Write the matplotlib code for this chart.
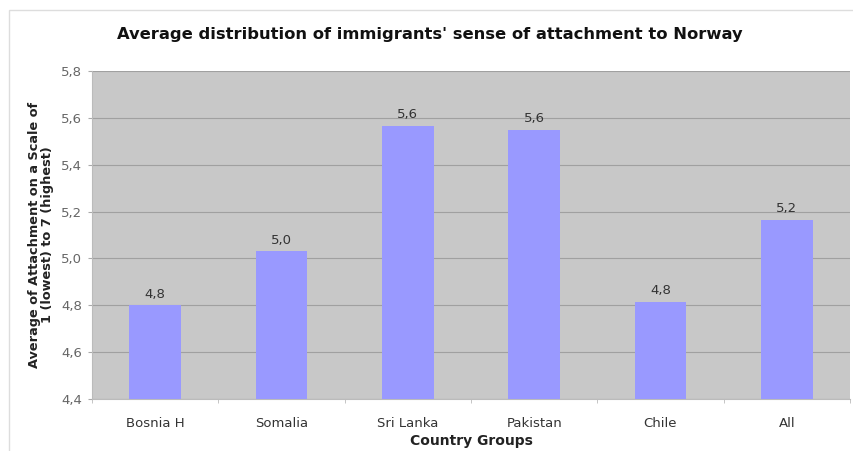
import matplotlib
matplotlib.use("Agg")
import matplotlib.pyplot as plt
from matplotlib.patches import Rectangle
import numpy as np

categories = ["Bosnia H", "Somalia", "Sri Lanka", "Pakistan", "Chile", "All"]
values = [4.80, 5.03, 5.565, 5.55, 4.815, 5.165]
value_labels = ["4,8", "5,0", "5,6", "5,6", "4,8", "5,2"]
yticks = [4.4, 4.6, 4.8, 5.0, 5.2, 5.4, 5.6, 5.8]
ytick_labels = ["4,4", "4,6", "4,8", "5,0", "5,2", "5,4", "5,6", "5,8"]

plt.rcParams['font.family'] = ['DejaVu Sans']
fig = plt.figure(figsize=(8.54, 4.51), dpi=100)
fig.patch.set_facecolor('white')

# outer chart frame
fig.add_artist(Rectangle((9/854, -0.01), 1.0, (451-10)/451 + 0.01, transform=fig.transFigure,
                         fill=False, edgecolor='#dddddd', linewidth=1.0))

ax = fig.add_axes([92/854, 52/451, 758/854, 328/451])
ax.set_facecolor('#c8c8c8')
x = np.arange(len(categories))
ax.bar(x, values, width=0.41, color='#9999ff', zorder=3, bottom=0)
ax.set_ylim(4.4, 5.8)
ax.set_xlim(-0.5, len(categories) - 0.5)
ax.set_yticks(yticks)
ax.set_yticklabels(ytick_labels, fontsize=9.5, color='#666666')
ax.set_xticks(x)
ax.set_xticklabels(categories, fontsize=9.5, color='#333333')
ax.tick_params(axis='x', length=0, pad=13)
ax.tick_params(axis='y', length=3, color='#aaaaaa', pad=4)
ax.set_xticks(np.arange(-0.5, len(categories)), minor=True)
ax.tick_params(axis='x', which='minor', length=3, color='#bbbbbb')
ax.grid(axis='y', color='#a0a0a0', linewidth=0.8, zorder=1)
for s in ['top', 'right']:
    ax.spines[s].set_visible(False)
ax.spines['left'].set_color('#bbbbbb')
ax.spines['bottom'].set_color('#bbbbbb')

for xi, v, lab in zip(x, values, value_labels):
    ax.text(xi, v + 0.02, lab, ha='center', va='bottom', fontsize=9.5, color='#333333', zorder=4)

ax.set_xlabel("Country Groups", fontsize=10, fontweight='bold', color='#222222', labelpad=3)
ax.set_ylabel("Average of Attachment on a Scale of\n1 (lowest) to 7 (highest)", fontsize=9.3,
              fontweight='bold', color='#222222', labelpad=5, linespacing=1.05)
fig.text(430/854, 1 - 35/451, "Average distribution of immigrants' sense of attachment to Norway",
         ha='center', va='center', fontsize=11.8, fontweight='bold', color='#111111')

fig.savefig("out.png", dpi=100)
